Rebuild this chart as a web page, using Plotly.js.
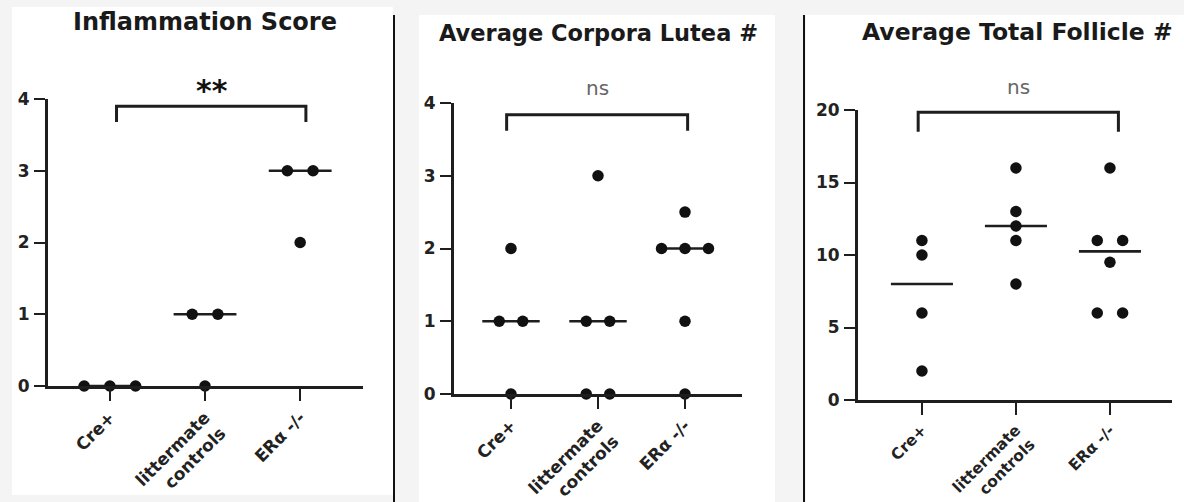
<!DOCTYPE html>
<html>
<head>
<meta charset="utf-8">
<script src="https://cdn.plot.ly/plotly-3.0.1.min.js"></script>
<style>
  html, body { margin: 0; padding: 0; background: #f4f4f4; }
  #chart { width: 1184px; height: 502px; }
</style>
</head>
<body>
<div id="chart"></div>
<script>
// ---------- data ----------
const categories = ['Cre+', 'littermate controls', 'ERα -/-'];
const tickLabels = ['Cre+', 'littermate<br>controls', 'ERα -/-'];

const panelTitles = ['Inflammation Score', 'Average Corpora Lutea #', 'Average Total Follicle #'];
const significance = ['**', 'ns', 'ns'];

const inflammationCre = [0, 0, 0];
const inflammationLitter = [1, 1, 0];
const inflammationERa = [3, 3, 2];

const corporaCre = [2, 1, 1, 0];
const corporaLitter = [3, 1, 1, 0, 0];
const corporaERa = [2.5, 2, 2, 2, 1, 0];

const follicleCre = [11, 10, 6, 2];
const follicleLitter = [16, 13, 12, 11, 8];
const follicleERa = [16, 11, 11, 9.5, 6, 6];

const yTicks1 = [0, 1, 2, 3, 4];
const yTicks2 = [0, 1, 2, 3, 4];
const yTicks3 = [0, 5, 10, 15, 20];

// ---------- helpers ----------
const W = 1184, H = 502;
const px = v => v / W;
const py = v => 1 - v / H;
const INK = '#1e1e1e';
const FONT = 'DejaVu Sans, Liberation Sans, Arial, sans-serif';

function median(a) {
  const s = [...a].sort((p, q) => p - q);
  const n = s.length;
  return n % 2 ? s[(n - 1) / 2] : (s[n / 2 - 1] + s[n / 2]) / 2;
}
// spread equal values symmetrically around the category
function jitter(vals, idx, spacing) {
  const counts = {}, seen = {};
  vals.forEach(v => counts[v] = (counts[v] || 0) + 1);
  return vals.map(v => {
    const k = seen[v] || 0; seen[v] = k + 1;
    return idx + (k - (counts[v] - 1) / 2) * spacing;
  });
}

const panels = [
  { groups: [inflammationCre, inflammationLitter, inflammationERa], xa: 'x', ya: 'y' },
  { groups: [corporaCre, corporaLitter, corporaERa], xa: 'x2', ya: 'y2' },
  { groups: [follicleCre, follicleLitter, follicleERa], xa: 'x3', ya: 'y3' }
];

const traces = [];
panels.forEach(p => {
  p.groups.forEach((vals, i) => {
    const m = median(vals);
    traces.push({
      type: 'scatter', mode: 'lines', xaxis: p.xa, yaxis: p.ya,
      x: [i - 0.33, i + 0.33], y: [m, m],
      line: { color: INK, width: 2.6 }, hoverinfo: 'skip', showlegend: false,
      cliponaxis: false
    });
    traces.push({
      type: 'scatter', mode: 'markers', xaxis: p.xa, yaxis: p.ya,
      x: jitter(vals, i, 0.27), y: vals, name: categories[i],
      marker: { color: '#111', size: 11.5 }, showlegend: false, cliponaxis: false
    });
  });
});

const tickFont = { family: FONT, size: 17, color: '#222', weight: 'bold' };
function xAxis(d0, d1, r, anchor, fs) {
  return {
    domain: [px(d0), px(d1)], range: r, anchor: anchor,
    showline: true, linewidth: 3, linecolor: INK,
    ticks: 'outside', ticklen: 12, tickwidth: 2, tickcolor: INK,
    tickvals: [0, 1, 2], ticktext: tickLabels, tickangle: -45,
    tickfont: Object.assign({}, tickFont, { size: fs }),
    showgrid: false, zeroline: false, fixedrange: true
  };
}
function yAxis(d0, d1, r, vals, anchor) {
  return {
    domain: [py(d0), py(d1)], range: r, anchor: anchor,
    showline: true, linewidth: 3, linecolor: INK,
    ticks: 'outside', ticklen: 11, tickwidth: 2, tickcolor: INK,
    tickvals: vals, ticktext: vals.map(String),
    tickfont: tickFont, showgrid: false, zeroline: false, fixedrange: true,
    ticklabelstandoff: 1
  };
}

function bracket(xref, yref, x0, x1, yb, yt) {
  return {
    type: 'path', xref: xref, yref: yref,
    path: `M ${x0},${yb} L ${x0},${yt} L ${x1},${yt} L ${x1},${yb}`,
    line: { color: INK, width: 3 }
  };
}

const shapes = [
  // white panels
  { type: 'rect', xref: 'paper', yref: 'paper', x0: px(12), x1: px(393), y0: py(495), y1: py(7),
    fillcolor: '#ffffff', line: { width: 0 }, layer: 'below' },
  { type: 'rect', xref: 'paper', yref: 'paper', x0: px(419), x1: px(775), y0: py(502), y1: py(15),
    fillcolor: '#ffffff', line: { width: 0 }, layer: 'below' },
  { type: 'rect', xref: 'paper', yref: 'paper', x0: px(806), x1: px(1184), y0: py(502), y1: py(15),
    fillcolor: '#ffffff', line: { width: 0 }, layer: 'below' },
  // separators
  { type: 'line', xref: 'paper', yref: 'paper', x0: px(394), x1: px(394), y0: py(15), y1: py(502),
    line: { color: '#111', width: 2 } },
  { type: 'line', xref: 'paper', yref: 'paper', x0: px(804), x1: px(804), y0: py(15), y1: py(502),
    line: { color: '#111', width: 2 } },
  // significance brackets
  bracket('x', 'y', 0.07, 2.06, 3.68, 3.9),
  bracket('x2', 'y2', -0.05, 2.03, 3.62, 3.84),
  bracket('x3', 'y3', -0.04, 2.09, 18.5, 19.85)
];

const annotations = [
  { text: panelTitles[0], xref: 'paper', yref: 'paper', x: px(205), y: py(22), showarrow: false,
    xanchor: 'center', yanchor: 'middle', font: { family: FONT, size: 24, color: '#1a1a1a', weight: 'bold' } },
  { text: panelTitles[1], xref: 'paper', yref: 'paper', x: px(598), y: py(33), showarrow: false,
    xanchor: 'center', yanchor: 'middle', font: { family: FONT, size: 22.5, color: '#1a1a1a', weight: 'bold' } },
  { text: panelTitles[2], xref: 'paper', yref: 'paper', x: px(1017), y: py(32), showarrow: false,
    xanchor: 'center', yanchor: 'middle', font: { family: FONT, size: 23.5, color: '#1a1a1a', weight: 'bold' } },
  { text: significance[0], xref: 'paper', yref: 'paper', x: px(212), y: py(90), showarrow: false,
    xanchor: 'center', yanchor: 'middle', font: { family: FONT, size: 30, color: '#111', weight: 'bold' } },
  { text: significance[1], xref: 'paper', yref: 'paper', x: px(597), y: py(88), showarrow: false,
    xanchor: 'center', yanchor: 'middle', font: { family: FONT, size: 20, color: '#666' } },
  { text: significance[2], xref: 'paper', yref: 'paper', x: px(1018), y: py(87), showarrow: false,
    xanchor: 'center', yanchor: 'middle', font: { family: FONT, size: 20, color: '#666' } }
];

const layout = {
  width: W, height: H,
  margin: { l: 0, r: 0, t: 0, b: 0 },
  paper_bgcolor: '#f4f4f4', plot_bgcolor: 'rgba(0,0,0,0)',
  showlegend: false,
  xaxis: xAxis(48, 363, [-0.65, 2.66], 'y', 17),
  yaxis: yAxis(386, 99, [0, 4], yTicks1, 'x'),
  xaxis2: xAxis(454, 742, [-0.655, 2.655], 'y2', 17),
  yaxis2: yAxis(394, 103, [0, 4], yTicks2, 'x2'),
  xaxis3: xAxis(858, 1172, [-0.68, 2.66], 'y3', 15.5),
  yaxis3: yAxis(400, 110, [0, 20], yTicks3, 'x3'),
  shapes: shapes,
  annotations: annotations
};

Plotly.newPlot('chart', traces, layout, { staticPlot: true, displayModeBar: false });
</script>
</body>
</html>
